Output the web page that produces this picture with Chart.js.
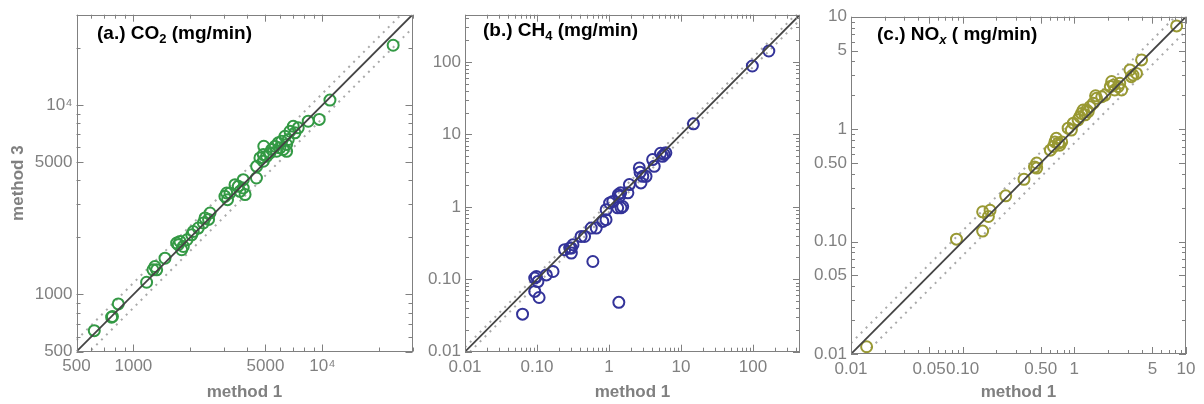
<!DOCTYPE html>
<html>
<head>
<meta charset="utf-8">
<script src="https://cdn.jsdelivr.net/npm/chart.js@4.4.1/dist/chart.umd.min.js"></script>
<style>
  html, body { margin: 0; padding: 0; background: #fff; }
  #wrap { position: relative; width: 1204px; height: 404px; overflow: hidden; font-family: 'Liberation Sans', Arial, sans-serif; }
  canvas { position: absolute; top: 0; }
  .ttl { position: absolute; font-weight: bold; font-size: 19px; line-height: 22px; color: #000; white-space: pre; z-index: 2; }
  .ttl sub { font-size: 13px; vertical-align: -4px; line-height: 0; }
</style>
</head>
<body>
<div id="wrap">
  <canvas id="co2" width="420" height="404" style="left:0;width:420px;height:404px"></canvas>
  <canvas id="ch4" width="390" height="404" style="left:420px;width:390px;height:404px"></canvas>
  <canvas id="nox" width="394" height="404" style="left:810px;width:394px;height:404px"></canvas>
  <div class="ttl" style="left:97px;top:22px">(a.) CO<sub>2</sub> (mg/min)</div>
  <div class="ttl" style="left:483px;top:19px">(b.) CH<sub>4</sub> (mg/min)</div>
  <div class="ttl" style="left:877px;top:23px">(c.) NO<sub><i>x</i></sub> ( mg/min)</div>
</div>
<script>
const FONT = "'Liberation Sans', Arial, sans-serif";
const GRAY = '#808080';

// (a) CO2, mg/min
const co2Method1 = [23700, 10970, 8420, 9630, 7015, 7455, 6740, 7160, 6340, 6600, 6090, 6470, 5845, 5615, 5965,
  5390, 5730, 6210, 6470, 5280, 4900, 4870, 5070, 4675, 4490, 4870, 4480, 3814, 3590, 3450, 3814, 3665, 3900,
  3245, 3117, 3050, 3150, 2544, 2393, 2344, 2500, 2205, 2075, 2035, 1764, 1728, 1837, 1694, 1801, 1922, 1470,
  1300, 1328, 1270, 1175, 832, 767, 775, 621];
const co2Method3 = [20700, 10620, 8220, 8400, 7730, 7585, 7275, 7135, 6845, 6575, 6440, 6190, 6320, 6060, 5945,
  5825, 5705, 5825, 5700, 5595, 6060, 5480, 5365, 5260, 4750, 5050, 4120, 4040, 3724, 3800, 3650, 3505, 3370,
  3435, 3435, 3296, 3168, 2693, 2535, 2386, 2490, 2243, 2150, 2066, 1906, 1830, 1793, 1868, 1722, 1945, 1554,
  1405, 1350, 1350, 1160, 892, 759, 765, 644];
const co2Range = [500, 30000];
const co2TickValues = [500, 1000, 5000, 10000];
const co2TickLabels = ['500', '1000', '5000', '10⁴'];

// (b) CH4, mg/min
const ch4Method1 = [166, 98, 14.9, 5.86, 6.17, 5.55, 5.2, 4.04, 4.25, 2.64, 2.7, 3.27, 2.78, 2.95, 1.92, 1.83,
  1.40, 1.35, 1.45, 1.13, 1.02, 1.47, 1.32, 1.55, 0.914, 0.91, 0.82, 0.567, 0.665, 0.458, 0.41, 0.316, 0.30,
  0.285, 0.30, 0.242, 0.597, 0.167, 0.135, 0.098, 0.093, 0.103, 0.093, 0.107, 1.37, 0.063];
const ch4Method3 = [142, 88, 14.0, 5.28, 5.57, 4.98, 5.5, 4.5, 3.63, 3.45, 3.0, 2.64, 2.14, 2.64, 2.03, 1.56,
  1.40, 1.48, 1.56, 1.19, 1.13, 0.97, 0.97, 1.01, 0.914, 0.665, 0.63, 0.51, 0.51, 0.39, 0.39, 0.30, 0.27,
  0.27, 0.23, 0.256, 0.176, 0.128, 0.115, 0.109, 0.104, 0.093, 0.068, 0.056, 0.048, 0.033];
const ch4Range = [0.01, 450];
const ch4TickValues = [0.01, 0.1, 1, 10, 100];
const ch4TickLabels = ['0.01', '0.10', '1', '10', '100'];

// (c) NOx, mg/min
const noxMethod1 = [8.24, 4.0, 3.15, 3.35, 3.6, 3.24, 2.16, 2.25, 2.47, 2.55, 2.65, 2.3, 2.1, 1.88, 1.76, 1.58,
  1.55, 1.48, 1.38, 1.29, 1.2, 1.16, 1.25, 1.33, 1.12, 1.08, 0.98, 0.88, 0.94, 0.69, 0.67, 0.72, 0.65, 0.77,
  0.74, 0.61, 0.46, 0.44, 0.46, 0.354, 0.243, 0.151, 0.176, 0.17, 0.151, 0.088, 0.0138];
const noxMethod3 = [8.28, 4.13, 3.36, 3.03, 3.13, 2.93, 2.65, 2.47, 2.39, 2.56, 2.23, 2.23, 2.39, 2.01, 1.94, 1.88,
  1.98, 1.70, 1.58, 1.48, 1.48, 1.38, 1.34, 1.43, 1.29, 1.21, 1.13, 1.02, 0.98, 0.83, 0.77, 0.75, 0.70, 0.77,
  0.72, 0.65, 0.50, 0.46, 0.45, 0.358, 0.255, 0.184, 0.19, 0.167, 0.124, 0.105, 0.0116];
const noxRange = [0.01, 10];
const noxTickValues = [0.01, 0.05, 0.1, 0.5, 1, 5, 10];
const noxTickLabels = ['0.01', '0.05', '0.10', '0.50', '1', '5', '10'];

// ratio of the dotted guide lines to the 1:1 line
const co2Band = [0.85, 1.15];
const ch4Band = [0.85, 1.15];
const noxBand = [0.75, 1.25];

// all 1..9 x 10^k positions inside the range
function logTicks(min, max) {
  const out = [];
  for (let e = Math.floor(Math.log10(min)); e <= Math.ceil(Math.log10(max)); e++) {
    for (let m = 1; m <= 9; m++) {
      const v = +(m * Math.pow(10, e)).toPrecision(6);
      if (v >= min * 0.9999 && v <= max * 1.0001) out.push(v);
    }
  }
  return out;
}

function tickIndex(v, values) {
  return values.findIndex(t => Math.abs(t - v) / t < 1e-6);
}

// Mathematica style frame: box with ticks pointing inward on all four sides
const insideTicks = {
  id: 'insideTicks',
  afterDraw(chart) {
    const { ctx, chartArea: a, scales: { x, y } } = chart;
    const p = chart.options.panel;
    ctx.save();
    ctx.strokeStyle = GRAY;
    ctx.lineWidth = 1;
    ctx.strokeRect(Math.round(a.left) + 0.5, Math.round(a.top) + 0.5,
      Math.round(a.right - a.left) - 1, Math.round(a.bottom - a.top) - 1);
    ctx.beginPath();
    x.ticks.forEach(t => {
      const px = Math.round(x.getPixelForValue(t.value)) + 0.5;
      const len = tickIndex(t.value, p.tickValues) >= 0 ? 7 : 4;
      ctx.moveTo(px, a.bottom); ctx.lineTo(px, a.bottom - len);
      ctx.moveTo(px, a.top); ctx.lineTo(px, a.top + len);
    });
    y.ticks.forEach(t => {
      const py = Math.round(y.getPixelForValue(t.value)) + 0.5;
      const len = tickIndex(t.value, p.tickValues) >= 0 ? 7 : 4;
      ctx.moveTo(a.left, py); ctx.lineTo(a.left + len, py);
      ctx.moveTo(a.right, py); ctx.lineTo(a.right - len, py);
    });
    ctx.stroke();
    ctx.restore();
  }
};

function axis(p, isX) {
  return {
    type: 'logarithmic',
    position: isX ? 'bottom' : 'left',
    min: p.range[0],
    max: p.range[1],
    afterBuildTicks: s => { s.ticks = logTicks(s.min, s.max).map(v => ({ value: v })); },
    afterFit: s => { if (isX) s.height = p.xAxisHeight; else s.width = p.yAxisWidth; },
    grid: { display: false, drawTicks: false },
    border: { display: false },
    ticks: {
      autoSkip: false,
      maxRotation: 0,
      padding: isX ? 5 : 4,
      color: GRAY,
      font: { family: FONT, size: 17 },
      callback: v => {
        const i = tickIndex(v, p.tickValues);
        return i >= 0 ? p.tickLabels[i] : '';
      }
    },
    title: {
      display: isX || !!p.yTitle,
      text: isX ? 'method 1' : (p.yTitle || ''),
      color: GRAY,
      font: { family: FONT, size: 17, weight: 'bold' },
      padding: isX ? { top: 0, bottom: 1 } : { top: 8, bottom: 0 }
    }
  };
}

function makePanel(id, p) {
  const ctx = document.getElementById(id);
  return new Chart(ctx, {
    type: 'scatter',
    data: {
      datasets: [
        {
          data: p.range.map(v => ({ x: v, y: v })),
          showLine: true,
          borderColor: '#444444',
          borderWidth: 1.8,
          pointRadius: 0,
          clip: 0
        },
        {
          data: p.m1.map((v, i) => ({ x: v, y: p.m3[i] })),
          pointStyle: 'circle',
          pointRadius: 5.5,
          pointBorderWidth: 2,
          borderColor: p.color,
          backgroundColor: 'rgba(0,0,0,0)',
          clip: false
        },
        {
          data: p.range.map(v => ({ x: v, y: v * p.band[1] })),
          showLine: true,
          borderColor: '#aaaaaa',
          borderWidth: 2,
          borderDash: [2, 5],
          pointRadius: 0,
          clip: 0
        },
        {
          data: p.range.map(v => ({ x: v, y: v * p.band[0] })),
          showLine: true,
          borderColor: '#aaaaaa',
          borderWidth: 2,
          borderDash: [2, 5],
          pointRadius: 0,
          clip: 0
        }
      ]
    },
    options: {
      panel: p,
      responsive: false,
      animation: false,
      layout: { padding: { left: 0, top: p.padTop, right: p.padRight, bottom: 0 } },
      plugins: { legend: { display: false }, tooltip: { enabled: false } },
      scales: { x: axis(p, true), y: axis(p, false) }
    },
    plugins: [insideTicks]
  });
}

makePanel('co2', {
  m1: co2Method1, m3: co2Method3, range: co2Range, band: co2Band,
  tickValues: co2TickValues, tickLabels: co2TickLabels,
  color: '#339944', yTitle: 'method 3',
  yAxisWidth: 76.5, xAxisHeight: 52.5, padTop: 14.7, padRight: 7.4
});

makePanel('ch4', {
  m1: ch4Method1, m3: ch4Method3, range: ch4Range, band: ch4Band,
  tickValues: ch4TickValues, tickLabels: ch4TickLabels,
  color: '#333399',
  yAxisWidth: 45, xAxisHeight: 52.3, padTop: 14.7, padRight: 10
});

makePanel('nox', {
  m1: noxMethod1, m3: noxMethod3, range: noxRange, band: noxBand,
  tickValues: noxTickValues, tickLabels: noxTickLabels,
  color: '#999933',
  yAxisWidth: 41, xAxisHeight: 50, padTop: 16.7, padRight: 18
});
</script>
</body>
</html>
